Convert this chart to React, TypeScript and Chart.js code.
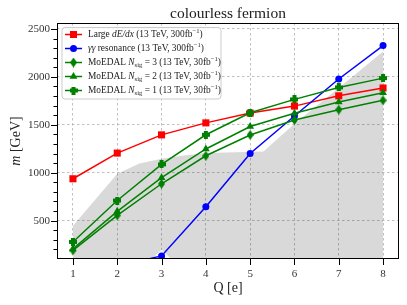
import React, { useEffect, useRef } from 'react';
import Chart from 'chart.js/auto';

// ---- data ----
const Q = [1, 2, 3, 4, 5, 6, 7, 8];
const dedx = [937, 1205, 1395, 1520, 1622, 1695, 1802, 1884];
const gammaQ = [2, 3, 4, 5, 6, 7, 8];
const gamma = [25, 132, 645, 1201, 1592, 1978, 2326];
const nsig3 = [190, 555, 885, 1177, 1394, 1550, 1658, 1755];
const nsig2 = [205, 597, 948, 1248, 1482, 1620, 1738, 1835];
const nsig1 = [278, 710, 1087, 1396, 1625, 1765, 1890, 1987];
const bandQ = [1, 2, 2.5, 3, 3.5, 4, 5.3, 6, 7, 8];
const bandTop = [445, 990, 1095, 1145, 1180, 1205, 1222, 1510, 1885, 2265];
const notchQ = [2.78, 3, 3.22];
const notchM = [100, 198, 100];
const xTicks = [1, 2, 3, 4, 5, 6, 7, 8];
const yTicks = [500, 1000, 1500, 2000, 2500];
const yMinor = [200, 300, 400, 600, 700, 800, 900, 1100, 1200, 1300, 1400, 1600, 1700, 1800, 1900, 2100, 2200, 2300, 2400];

const FONT = '"Liberation Serif", "DejaVu Serif", serif';
const RED = '#ff0000';
const BLUE = '#0000ff';
const GREEN = '#008000';

type Seg = { t: string; s: 'n' | 'i' | 'sub' | 'sup' };
const legendRows: { color: string; marker: string; segs: Seg[] }[] = [
  { color: RED, marker: 'square', segs: [{ t: 'Large ', s: 'n' }, { t: 'dE/dx', s: 'i' }, { t: ' (13 TeV, 300fb', s: 'n' }, { t: '\u22121', s: 'sup' }, { t: ')', s: 'n' }] },
  { color: BLUE, marker: 'circle', segs: [{ t: '\u03b3\u03b3', s: 'i' }, { t: ' resonance (13 TeV, 300fb', s: 'n' }, { t: '\u22121', s: 'sup' }, { t: ')', s: 'n' }] },
  { color: GREEN, marker: 'diamond', segs: [{ t: 'MoEDAL ', s: 'n' }, { t: 'N', s: 'i' }, { t: 'sig', s: 'sub' }, { t: ' = 3 (13 TeV, 30fb', s: 'n' }, { t: '\u22121', s: 'sup' }, { t: ')', s: 'n' }] },
  { color: GREEN, marker: 'triangle', segs: [{ t: 'MoEDAL ', s: 'n' }, { t: 'N', s: 'i' }, { t: 'sig', s: 'sub' }, { t: ' = 2 (13 TeV, 30fb', s: 'n' }, { t: '\u22121', s: 'sup' }, { t: ')', s: 'n' }] },
  { color: GREEN, marker: 'plus', segs: [{ t: 'MoEDAL ', s: 'n' }, { t: 'N', s: 'i' }, { t: 'sig', s: 'sub' }, { t: ' = 1 (13 TeV, 30fb', s: 'n' }, { t: '\u22121', s: 'sup' }, { t: ')', s: 'n' }] },
];

function makeDiamond(color: string) {
  const c = document.createElement('canvas');
  c.width = 7; c.height = 10;
  const g = c.getContext('2d')!;
  g.fillStyle = color;
  g.beginPath();
  g.moveTo(3.5, 0); g.lineTo(7, 5); g.lineTo(3.5, 10); g.lineTo(0, 5); g.closePath();
  g.fill();
  return c;
}
function makePlus(color: string) {
  const c = document.createElement('canvas');
  c.width = 8; c.height = 8;
  const g = c.getContext('2d')!;
  g.fillStyle = color;
  g.fillRect(2, 0, 4, 8);
  g.fillRect(0, 2, 8, 4);
  return c;
}

function drawMarker(ctx: CanvasRenderingContext2D, kind: string, x: number, y: number, color: string, imgs: any) {
  ctx.fillStyle = color;
  if (kind === 'square') {
    ctx.fillRect(x - 3.5, y - 3.5, 7, 7);
  } else if (kind === 'circle') {
    ctx.beginPath(); ctx.arc(x, y, 3.5, 0, Math.PI * 2); ctx.fill();
  } else if (kind === 'triangle') {
    const r = 4.5;
    ctx.beginPath();
    ctx.moveTo(x, y - r);
    ctx.lineTo(x + r * 0.866, y + r * 0.5);
    ctx.lineTo(x - r * 0.866, y + r * 0.5);
    ctx.closePath(); ctx.fill();
  } else if (kind === 'diamond') {
    ctx.drawImage(imgs.diamond, x - 3.5, y - 5);
  } else if (kind === 'plus') {
    ctx.drawImage(imgs.plus, x - 4, y - 4);
  }
}

function segFont(s: string, base: number) {
  if (s === 'i') return `italic ${base}px ${FONT}`;
  if (s === 'sub' || s === 'sup') return `${base * 0.7}px ${FONT}`;
  return `${base}px ${FONT}`;
}
function drawRich(ctx: CanvasRenderingContext2D, segs: Seg[], x: number, y: number, base: number) {
  let cx = x;
  for (const sg of segs) {
    ctx.font = segFont(sg.s, base);
    let dy = 0;
    if (sg.s === 'sub') dy = base * 0.28;
    if (sg.s === 'sup') dy = -base * 0.38;
    ctx.fillText(sg.t, cx, y + dy);
    cx += ctx.measureText(sg.t).width;
  }
  return cx - x;
}
function richWidth(ctx: CanvasRenderingContext2D, segs: Seg[], base: number) {
  let w = 0;
  for (const sg of segs) { ctx.font = segFont(sg.s, base); w += ctx.measureText(sg.t).width; }
  return w;
}

export default function App() {
  const ref = useRef<HTMLCanvasElement>(null);
  useEffect(() => {
    const imgs = { diamond: makeDiamond(GREEN), plus: makePlus(GREEN) };
    const pts = (xs: number[], ys: number[]) => xs.map((x, i) => ({ x, y: ys[i] }));

    const decor = {
      id: 'decor',
      afterDraw(chart: any) {
        const { ctx, chartArea: a, scales } = chart;
        const xs = scales.x, ys = scales.y;
        ctx.save();
        // frame
        ctx.strokeStyle = '#000'; ctx.lineWidth = 1;
        ctx.strokeRect(Math.round(a.left) + 0.5, Math.round(a.top) + 0.5, Math.round(a.right - a.left) - 1, Math.round(a.bottom - a.top) - 1);
        // ticks
        ctx.beginPath();
        for (const v of yTicks) {
          const py = Math.round(ys.getPixelForValue(v)) + 0.5;
          ctx.moveTo(a.left - 6, py); ctx.lineTo(a.left, py);
        }
        for (const v of yMinor) {
          const py = Math.round(ys.getPixelForValue(v)) + 0.5;
          ctx.moveTo(a.left - 3.5, py); ctx.lineTo(a.left, py);
        }
        for (const v of xTicks) {
          const px = Math.round(xs.getPixelForValue(v)) + 0.5;
          ctx.moveTo(px, a.bottom); ctx.lineTo(px, a.bottom + 6);
        }
        ctx.stroke();
        // title
        ctx.fillStyle = '#222';
        ctx.textBaseline = 'middle';
        ctx.textAlign = 'center';
        ctx.font = `15.5px ${FONT}`;
        ctx.fillText('colourless fermion', (a.left + a.right) / 2, 14);
        // x label
        ctx.font = `14px ${FONT}`;
        ctx.fillText('Q [e]', (a.left + a.right) / 2, 288);
        // y label
        ctx.save();
        ctx.translate(16, (a.top + a.bottom) / 2);
        ctx.rotate(-Math.PI / 2);
        ctx.textAlign = 'left';
        const ysegs: Seg[] = [{ t: 'm', s: 'i' }, { t: ' [GeV]', s: 'n' }];
        const w = richWidth(ctx, ysegs, 14);
        drawRich(ctx, ysegs, -w / 2, 0, 14);
        ctx.restore();
        // legend
        const lx = 62, ly = 27.5, lw = 159, lh = 71.5, r = 3;
        ctx.beginPath();
        ctx.moveTo(lx + r, ly);
        ctx.lineTo(lx + lw - r, ly); ctx.quadraticCurveTo(lx + lw, ly, lx + lw, ly + r);
        ctx.lineTo(lx + lw, ly + lh - r); ctx.quadraticCurveTo(lx + lw, ly + lh, lx + lw - r, ly + lh);
        ctx.lineTo(lx + r, ly + lh); ctx.quadraticCurveTo(lx, ly + lh, lx, ly + lh - r);
        ctx.lineTo(lx, ly + r); ctx.quadraticCurveTo(lx, ly, lx + r, ly);
        ctx.closePath();
        ctx.fillStyle = 'rgba(255,255,255,0.85)';
        ctx.fill();
        ctx.strokeStyle = '#cccccc'; ctx.lineWidth = 1;
        ctx.stroke();
        ctx.textAlign = 'left';
        legendRows.forEach((row, i) => {
          const y = 34.5 + i * 14;
          ctx.strokeStyle = row.color; ctx.lineWidth = 1.5;
          ctx.beginPath(); ctx.moveTo(65, y); ctx.lineTo(82, y); ctx.stroke();
          drawMarker(ctx, row.marker, 73.5, y, row.color, imgs);
          ctx.fillStyle = '#222';
          drawRich(ctx, row.segs, 88, y, 9.4);
        });
        ctx.restore();
      },
    };

    const gridOpts = { color: '#b0b0b0', lineWidth: 0.8, drawTicks: false, borderDash: [2.5, 2.5] };
    const chart = new Chart(ref.current!, {
      type: 'line',
      data: {
        datasets: [
          { label: 'dedx', data: pts(Q, dedx), borderColor: RED, backgroundColor: RED, borderWidth: 1.5, pointStyle: 'rect', pointRadius: 5, pointBorderWidth: 0, order: 5, clip: 0 } as any,
          { label: 'gamma', data: pts(gammaQ, gamma), borderColor: BLUE, backgroundColor: BLUE, borderWidth: 1.5, pointStyle: 'circle', pointRadius: 3.5, pointBorderWidth: 0, order: 4, clip: 0 },
          { label: 'n3', data: pts(Q, nsig3), borderColor: GREEN, backgroundColor: GREEN, borderWidth: 1.5, pointStyle: imgs.diamond, pointRadius: 5, order: 3, clip: 0 },
          { label: 'n2', data: pts(Q, nsig2), borderColor: GREEN, backgroundColor: GREEN, borderWidth: 1.5, pointStyle: 'triangle', pointRadius: 4.5, pointBorderWidth: 0, order: 2, clip: 0 },
          { label: 'n1', data: pts(Q, nsig1), borderColor: GREEN, backgroundColor: GREEN, borderWidth: 1.5, pointStyle: imgs.plus, pointRadius: 5, order: 1, clip: 0 },
          { label: 'band', data: pts(bandQ, bandTop), borderWidth: 0, borderColor: 'rgba(0,0,0,0)', backgroundColor: 'rgba(0,0,0,0.15)', pointRadius: 0, fill: 'start', order: 20, clip: 0 },
          { label: 'notch', data: pts(notchQ, notchM), borderWidth: 0, borderColor: 'rgba(0,0,0,0)', backgroundColor: 'rgba(255,255,255,0.85)', pointRadius: 0, fill: 'start', order: 19, clip: 0 },
        ],
      },
      options: {
        animation: false,
        responsive: false,
        events: [],
        layout: { padding: { top: 23, right: 8, left: 0, bottom: 0 } },
        plugins: { legend: { display: false }, title: { display: false }, tooltip: { enabled: false } },
        elements: { line: { tension: 0 } },
        scales: {
          x: {
            type: 'linear', min: 0.64, max: 8.36,
            afterBuildTicks: (s: any) => { s.ticks = xTicks.map((v) => ({ value: v })); },
            afterFit: (s: any) => { s.height = 46; },
            grid: gridOpts,
            border: { display: false, dash: [2.5, 2.5] },
            ticks: { font: { family: FONT, size: 11 }, color: '#333', padding: 9, maxRotation: 0, callback: (v: any) => String(v) },
          },
          y: {
            type: 'linear', min: 100, max: 2562,
            afterBuildTicks: (s: any) => { s.ticks = yTicks.map((v) => ({ value: v })); },
            afterFit: (s: any) => { s.width = 57; },
            grid: gridOpts,
            border: { display: false, dash: [2.5, 2.5] },
            ticks: { font: { family: FONT, size: 11 }, color: '#333', padding: 7, callback: (v: any) => String(v) },
          },
        },
      } as any,
      plugins: [decor],
    });
    return () => chart.destroy();
  }, []);
  return (
    <div style={{ position: 'fixed', left: 0, top: 0, width: 407, height: 305, background: '#fff' }}>
      <canvas ref={ref} width={407} height={305} style={{ width: 407, height: 305, display: 'block' }} />
    </div>
  );
}
